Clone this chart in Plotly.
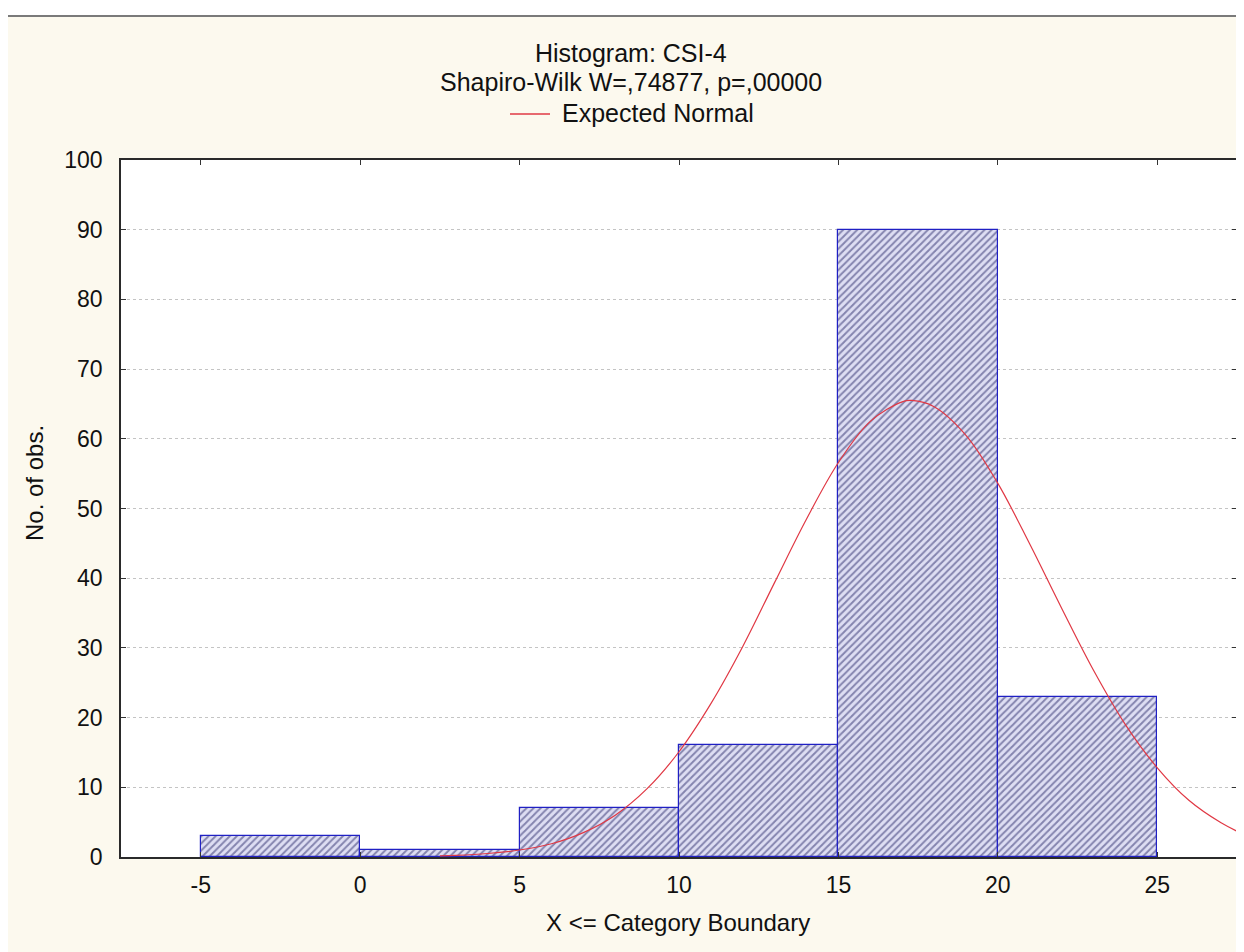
import plotly.graph_objects as go

# ---- data ----
bin_lower = [-5, 0, 5, 10, 15, 20]
bin_upper = [0, 5, 10, 15, 20, 25]
counts = [3, 1, 7, 16, 90, 23]

normal_x = [2.5, 3, 4, 5, 6, 7, 8, 9, 10, 11, 12, 13, 14, 15, 16, 17, 17.3, 18,
            19, 20, 21, 22, 23, 24, 25, 26, 27, 27.5]
normal_y = [0.16, 0.23, 0.5, 1.0, 1.9, 3.5, 6.0, 9.8, 15.1, 22.0, 30.2, 39.4, 48.5,
            56.6, 62.5, 65.3, 65.5, 64.6, 60.5, 53.6, 44.9, 35.7, 26.8, 19.0, 12.8,
            8.1, 4.9, 3.7]

x_tick_vals = [-5, 0, 5, 10, 15, 20, 25]
x_tick_text = ["-5", "0", "5", "10", "15", "20", "25"]
y_tick_vals = [0, 10, 20, 30, 40, 50, 60, 70, 80, 90, 100]
y_tick_text = ["0", "10", "20", "30", "40", "50", "60", "70", "80", "90", "100"]

title_lines = ["Histogram: CSI-4", "Shapiro-Wilk W=,74877, p=,00000"]
legend_text = "Expected Normal"
x_title = "X <= Category Boundary"
y_title = "No. of obs."

centers = [(a + b) / 2 for a, b in zip(bin_lower, bin_upper)]
widths = [b - a for a, b in zip(bin_lower, bin_upper)]

FONT = "Liberation Sans, Arial, sans-serif"
OFF = 8                     # page body margin
W, H = 1244 - OFF, 952 - OFF
L, T = 121 - OFF, 160 - OFF
R = W - (1237 - OFF)
B = H - (857 - OFF)
PW, PH = W - L - R, H - T - B


def px_x(p):  # screen pixel -> paper x
    return (p - OFF - L) / PW


def px_y(p):  # screen pixel -> paper y
    return (H - B - (p - OFF)) / PH


fig = go.Figure()
fig.add_trace(go.Bar(
    x=centers, y=counts, width=widths,
    marker=dict(color="#dedef3",
                line=dict(color="#2020c4", width=1.2),
                pattern=dict(shape="/", fgcolor="#2a2a6a", bgcolor="#dedef3",
                             size=5, solidity=0.4)),
    showlegend=False, hoverinfo="skip",
))
fig.add_trace(go.Scatter(
    x=normal_x, y=normal_y, mode="lines", name=legend_text,
    line=dict(color="#e03844", width=1.2, shape="spline"),
    showlegend=False,
))

txt = dict(xref="paper", yref="paper", showarrow=False, yanchor="middle",
           font=dict(family=FONT, size=25, color="#111111"))
annotations = [
    dict(text=title_lines[0], x=px_x(631), y=px_y(53), xanchor="center", **txt),
    dict(text=title_lines[1], x=px_x(631), y=px_y(82), xanchor="center", **txt),
    dict(text=legend_text, x=px_x(560), y=px_y(113), xanchor="left", **txt),
    dict(text=x_title, x=px_x(678), y=px_y(922), xanchor="center",
         **{**txt, "font": dict(family=FONT, size=24, color="#111111")}),
    dict(text=y_title, x=px_x(34), y=px_y(483), xanchor="center", textangle=-90,
         **{**txt, "font": dict(family=FONT, size=24, color="#111111")}),
]

shapes = [
    # white page strip above the cream panel and its grey rule
    dict(type="rect", xref="paper", yref="paper", x0=px_x(0), x1=px_x(1260),
         y0=px_y(15), y1=px_y(0), fillcolor="white", line=dict(width=0), layer="below"),
    dict(type="line", xref="paper", yref="paper", x0=px_x(0), x1=px_x(1260),
         y0=px_y(16), y1=px_y(16), line=dict(color="#7a7a7a", width=2)),
    # legend sample line
    dict(type="line", xref="paper", yref="paper", x0=px_x(510), x1=px_x(550),
         y0=px_y(114), y1=px_y(114), line=dict(color="#e03844", width=1.3)),
]

axis_common = dict(
    showline=True, linecolor="#2a2a2a", linewidth=1.6, mirror="ticks",
    ticks="inside", ticklen=5, tickwidth=1.2, tickcolor="#333333",
    zeroline=False,
    tickfont=dict(family=FONT, size=23, color="#111111"),
)

fig.update_layout(
    width=W, height=H,
    margin=dict(l=L, r=R, t=T, b=B, autoexpand=False),
    paper_bgcolor="#fcf9ee", plot_bgcolor="#ffffff",
    bargap=0,
    showlegend=False,
    annotations=annotations,
    shapes=shapes,
    xaxis=dict(range=[-7.5, 27.5], tickvals=x_tick_vals, ticktext=x_tick_text,
               showgrid=False, ticklabelstandoff=7, **axis_common),
    yaxis=dict(range=[0, 100], tickvals=y_tick_vals, ticktext=y_tick_text,
               showgrid=True, gridcolor="#c4c4c4", griddash="dot", gridwidth=1,
               ticklabelstandoff=12, **axis_common),
)

fig.write_html("out.html")
